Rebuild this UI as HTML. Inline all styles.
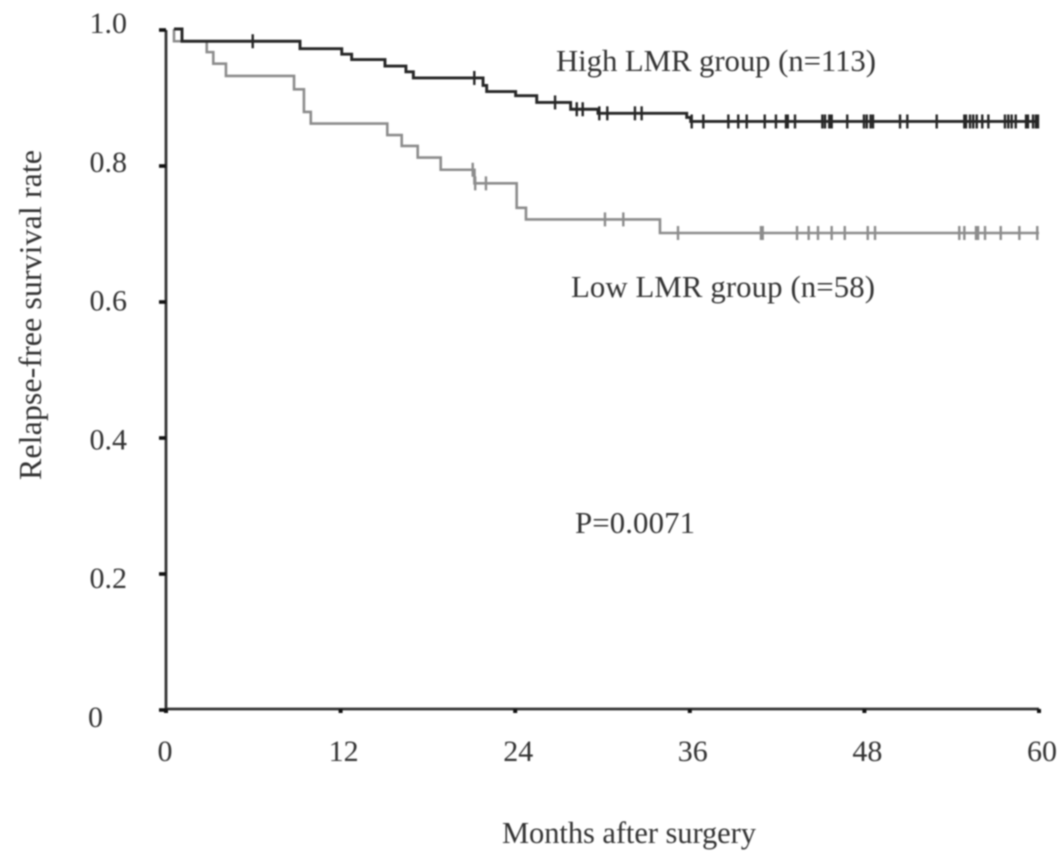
<!DOCTYPE html>
<html>
<head>
<meta charset="utf-8">
<style>
html,body{margin:0;padding:0;background:#fff;width:1063px;height:858px;overflow:hidden}
svg{display:block;filter:blur(0.7px)}
text{font-family:"Liberation Serif",serif;fill:#333}
</style>
</head>
<body>
<svg id="chart" width="1063" height="858" viewBox="0 0 1063 858" xmlns="http://www.w3.org/2000/svg">
  <rect width="1063" height="858" fill="#fff"/>
  <g id="low-group"></g>
  <g id="high-group"></g>
  <g id="axes"></g>
  <text transform="translate(41,315) rotate(-90)" text-anchor="middle" font-size="32" textLength="330" lengthAdjust="spacing">Relapse-free survival rate</text>
  <text x="629" y="843" text-anchor="middle" font-size="30.5" textLength="254" lengthAdjust="spacing">Months after surgery</text>
  <text x="716" y="71" text-anchor="middle" font-size="30.8" textLength="320" lengthAdjust="spacing">High LMR group (n=113)</text>
  <text x="723" y="297" text-anchor="middle" font-size="30.8" textLength="304" lengthAdjust="spacing">Low LMR group (n=58)</text>
  <text x="635" y="533" text-anchor="middle" font-size="30.8" textLength="120" lengthAdjust="spacing">P=0.0071</text>
</svg>
<script>
const xTicks = [0, 12, 24, 36, 48, 60];
const yTicks = [0, 0.2, 0.4, 0.6, 0.8, 1.0];
const yTickLabels = ["0", "0.2", "0.4", "0.6", "0.8", "1.0"];

const startTime = 0.55;
const highTimes = [1.10, 9.21, 12.08, 12.76, 15.05, 16.49, 17.0, 21.79, 22.04, 24.03, 25.48, 27.81, 29.69, 35.79, 36.06, 60];
const highValues = [0.982, 0.971, 0.963, 0.955, 0.9455, 0.937, 0.928, 0.917, 0.908, 0.902, 0.892, 0.882, 0.876, 0.870, 0.864, 0.864];
const highCensored = [5.96, 21.19, 26.74, 28.23, 28.64, 29.78, 30.33, 32.23, 32.69, 36.13, 36.93, 38.65, 39.33, 39.91, 41.15, 41.92, 42.61, 42.73, 43.23, 45.11, 45.29, 45.59, 45.75, 46.82, 47.97, 48.16, 48.43, 48.59, 50.45, 50.95, 52.97, 54.87, 54.98, 55.26, 55.48, 55.72, 56.10, 56.52, 57.66, 57.89, 58.12, 58.40, 59.11, 59.24, 59.59, 59.79, 59.93];

const lowTimes = [0.55, 2.80, 3.25, 4.12, 8.80, 9.48, 9.95, 15.21, 16.2, 17.3, 18.88, 21.2, 24.1, 24.74, 33.95, 60];
const lowValues = [0.982, 0.966, 0.949, 0.931, 0.9113, 0.878, 0.861, 0.844, 0.828, 0.811, 0.793, 0.773, 0.737, 0.72, 0.70, 0.70];
const lowCensored = [21.08, 21.25, 21.99, 30.17, 31.43, 35.19, 40.89, 41.01, 43.37, 44.17, 44.81, 45.75, 46.65, 48.23, 48.73, 54.52, 54.87, 55.67, 55.81, 56.29, 57.37, 58.65, 59.88];

const NS = 'http://www.w3.org/2000/svg';
const xScale = t => 166 + (t / 60) * 873;
const yScale = s => 709 - s * 680;
const yLabelBaseline = s => 727 - s * 694;

function make(tag, attrs, parent) {
  const el = document.createElementNS(NS, tag);
  for (const k in attrs) el.setAttribute(k, attrs[k]);
  parent.appendChild(el);
  return el;
}

function survivalAt(t, times, values) {
  let s = 1;
  for (let i = 0; i < times.length; i++) {
    if (times[i] <= t) s = values[i];
  }
  return s;
}

function drawSeries(group, times, values, censored, color, width) {
  let d = 'M' + xScale(startTime) + ' ' + yScale(1);
  for (let i = 0; i < times.length; i++) {
    d += 'H' + xScale(times[i]) + 'V' + yScale(values[i]);
  }
  const line = make('path', {d: d, fill: 'none', stroke: color, 'stroke-width': width}, group);
  
  
  censored.forEach(t => {
    const y = yScale(survivalAt(t, times, values));
    const mark = make('line', {x1: xScale(t), x2: xScale(t), y1: y - 7, y2: y + 7, stroke: color, 'stroke-width': 2.4}, group);
    
    
  });
}

drawSeries(document.getElementById('low-group'), lowTimes, lowValues, lowCensored, '#8c8c8c', 2.6);
drawSeries(document.getElementById('high-group'), highTimes, highValues, highCensored, '#262626', 2.9);

const axes = document.getElementById('axes');
const yAxisLine = make('line', {x1: xScale(0), x2: xScale(0), y1: yScale(1) + 1, y2: yScale(0), stroke: '#333', 'stroke-width': 2.8}, axes);


const xAxisLine = make('line', {x1: xScale(0) - 1, x2: xScale(60), y1: yScale(0), y2: yScale(0), stroke: '#333', 'stroke-width': 2.8}, axes);



yTicks.forEach((v, i) => {
  const tick = make('line', {x1: xScale(0) - 7, x2: xScale(0), y1: yScale(v) + 1, y2: yScale(v) + 1, stroke: '#111', 'stroke-width': 3.6}, axes);
  
  
  const label = make('text', {x: v === 0 ? 88 : 127, y: yLabelBaseline(v), 'text-anchor': v === 0 ? 'start' : 'end', 'font-size': 30}, axes);
  
  
  label.textContent = yTickLabels[i];
});

xTicks.forEach(v => {
  const tick = make('line', {x1: xScale(v), x2: xScale(v), y1: yScale(0), y2: yScale(0) + 4, stroke: '#111', 'stroke-width': 4}, axes);
  
  
  const label = make('text', {x: xScale(v) + (v === 0 ? -1 : 3), y: 761, 'text-anchor': 'middle', 'font-size': 30}, axes);
  
  
  label.textContent = String(v);
});
</script>
</body>
</html>
